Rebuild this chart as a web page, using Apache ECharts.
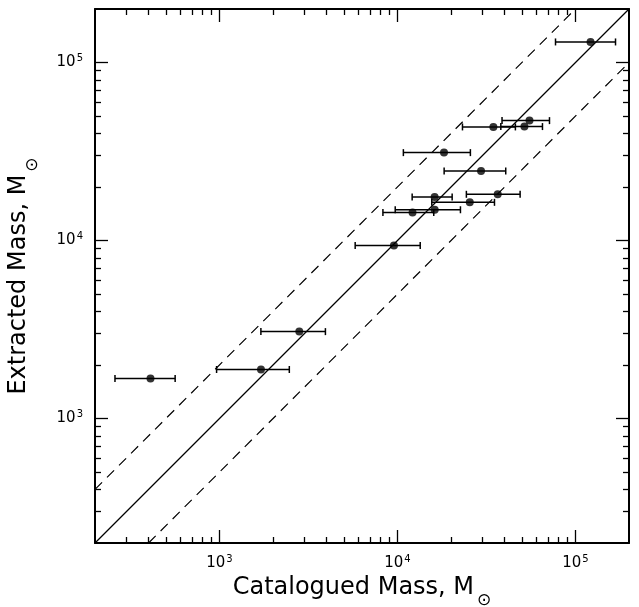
<!DOCTYPE html>
<html>
<head>
<meta charset="utf-8">
<script src="https://cdn.jsdelivr.net/npm/echarts@6/dist/echarts.min.js"></script>
<style>
html,body{margin:0;padding:0;background:#fff;}
#c{width:639px;height:607px;}
</style>
</head>
<body>
<div id="c"></div>
<script>
// Catalogued mass (x), extracted mass (y), horizontal error range
const catalogued = [121600, 55200, 51700, 34600, 18270, 29500, 16180, 36600, 25500, 16200, 12160, 9560, 2810, 1712, 410];
const extracted  = [130600, 47200, 43700, 43500, 31200, 24600, 17600, 18200, 16400, 14900, 14360, 9370, 3080, 1887, 1680];
const xErrLow    = [77300, 38700, 38100, 23200, 10800, 18300, 12100, 24400, 15600, 9720, 8290, 5790, 1710, 964, 259];
const xErrHigh   = [168000, 71500, 65300, 46000, 25700, 40600, 20300, 48900, 35100, 22600, 16000, 13430, 3940, 2470, 564];

const axisMin = 200, axisMax = 200000;
const majorTicks = [1000, 10000, 100000];
const minorTicks = [300,400,500,600,700,800,900,2000,3000,4000,5000,6000,7000,8000,9000,20000,30000,40000,50000,60000,70000,80000,90000];
// reference lines y = ratio * x
const ratios = [1, 2, 0.5];
const ratioDash = ['solid', [10, 7], [10, 7]];

const FONT = 'DejaVu Sans';

function lineEnds(r) {
  const x0 = Math.max(axisMin, axisMin / r);
  const x1 = Math.min(axisMax, axisMax / r);
  return [[x0, x0 * r], [x1, x1 * r]];
}

const labelRich = {
  b: {fontSize: 15, fontFamily: FONT, color: '#000', lineHeight: 18},
  s: {fontSize: 10, fontFamily: FONT, color: '#000', verticalAlign: 'top', lineHeight: 18, padding: [0,0,0,1]}
};
function expFmt(v) {
  const e = Math.round(Math.log10(v));
  return '{b|10}{s|' + e + '}';
}

function mkAxis(dim, pos, major, withLabel, nameObj) {
  const a = {
    type: 'log', logBase: 10, min: axisMin, max: axisMax, position: pos,
    axisLine: {show: major, onZero: false, lineStyle: {color: '#000', width: 2}},
    axisTick: {show: true, inside: true, length: major ? 13 : 6,
               customValues: major ? majorTicks : minorTicks,
               lineStyle: {color: '#000', width: 1.3}},
    axisLabel: {show: withLabel},
    splitLine: {show: false},
    minorTick: {show: false}, minorSplitLine: {show: false}
  };
  if (withLabel) {
    a.axisLabel = {show: true, customValues: majorTicks, formatter: expFmt, rich: labelRich,
                   margin: dim === 'x' ? 11 : 12, color: '#000'};
  }
  if (nameObj) Object.assign(a, nameObj);
  return a;
}

const nameRich = {
  n: {fontSize: 24, fontFamily: FONT, color: '#000', lineHeight: 30},
  o: {fontSize: 17, fontFamily: FONT, color: '#000', verticalAlign: 'bottom', lineHeight: 30, padding: [0,0,-7,3]}
};

const xAxes = [
  mkAxis('x', 'bottom', true, true, {name: '{n|Catalogued Mass, M}{o|⊙}', nameLocation: 'middle', nameGap: 28,
     nameTextStyle: {rich: nameRich}}),
  mkAxis('x', 'bottom', false, false),
  mkAxis('x', 'top', true, false),
  mkAxis('x', 'top', false, false)
];
const yAxes = [
  mkAxis('y', 'left', true, true, {name: '{n|Extracted Mass, M}{o|⊙}', nameLocation: 'middle', nameGap: 61,
     nameTextStyle: {rich: nameRich}}),
  mkAxis('y', 'left', false, false),
  mkAxis('y', 'right', true, false),
  mkAxis('y', 'right', false, false)
];

const pts = catalogued.map((x, i) => [x, extracted[i], xErrLow[i], xErrHigh[i]]);

const series = [];
ratios.forEach((r, i) => {
  series.push({
    type: 'line', data: lineEnds(r), symbol: 'none', silent: true, z: 1,
    lineStyle: {color: '#000', width: 1.2, type: ratioDash[i]}, animation: false
  });
});
series.push({
  type: 'custom', data: pts, encode: {x: [0, 2, 3], y: 1}, z: 3, animation: false,
  renderItem: function (params, api) {
    const y = api.value(1);
    const p1 = api.coord([api.value(2), y]);
    const p2 = api.coord([api.value(3), y]);
    const h = 3.5;
    const st = {stroke: '#000', lineWidth: 1.5};
    return {type: 'group', children: [
      {type: 'line', shape: {x1: p1[0], y1: p1[1], x2: p2[0], y2: p2[1]}, style: st},
      {type: 'line', shape: {x1: p1[0], y1: p1[1] - h, x2: p1[0], y2: p1[1] + h}, style: st},
      {type: 'line', shape: {x1: p2[0], y1: p2[1] - h, x2: p2[0], y2: p2[1] + h}, style: st}
    ]};
  }
});
series.push({
  type: 'scatter', data: pts.map(p => [p[0], p[1]]), symbol: 'circle', symbolSize: 8, z: 4,
  itemStyle: {color: '#000'}, animation: false
});

const chart = echarts.init(document.getElementById('c'), null, {renderer: 'canvas'});
chart.setOption({
  backgroundColor: '#fff',
  animation: false,
  grid: {left: 95, right: 10, top: 9, bottom: 64, containLabel: false, outerBoundsMode: 'none'},
  xAxis: xAxes,
  yAxis: yAxes,
  series: series
});
</script>
</body>
</html>
